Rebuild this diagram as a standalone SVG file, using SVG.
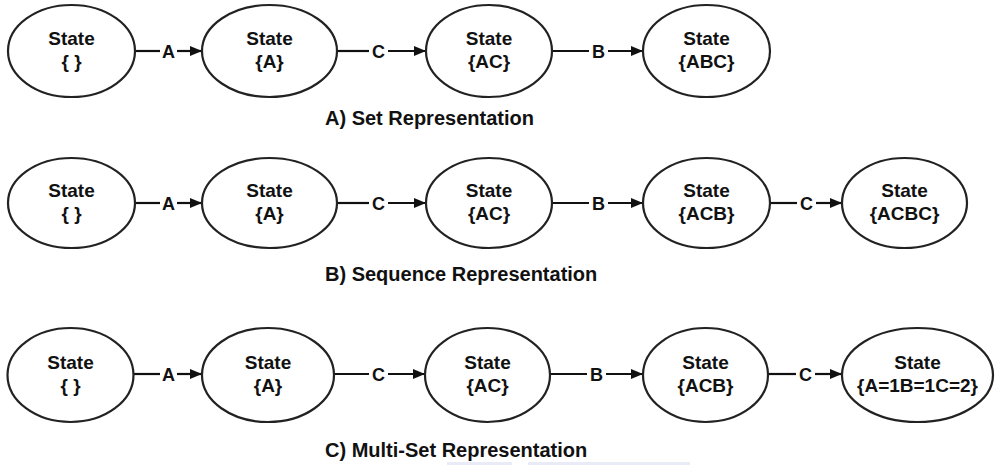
<svg xmlns="http://www.w3.org/2000/svg" width="997" height="465" viewBox="0 0 997 465">
<defs>
<style>
.n ellipse{fill:#fff;stroke:#222;stroke-width:2.2}
.n text{font-family:"Liberation Sans",Arial,sans-serif;font-weight:bold;font-size:19px;fill:#111;text-anchor:middle}
.edge{stroke:#111;stroke-width:2.2;fill:none}
.lbl{font-family:"Liberation Sans",Arial,sans-serif;font-weight:bold;font-size:18px;fill:#111;text-anchor:middle}
.t{font-family:"Liberation Sans",Arial,sans-serif;font-weight:bold;font-size:20px;fill:#111}
</style>
<marker id="ah" viewBox="0 0 12 10" refX="12" refY="5" markerWidth="12" markerHeight="10" markerUnits="userSpaceOnUse" orient="auto">
<path d="M0,0 L12,5 L0,10 Z" fill="#111"/>
</marker>
</defs>
<rect width="997" height="465" fill="#fff"/>
<rect x="447" y="462" width="65" height="3" fill="#e9ecf6"/>
<rect x="528" y="462" width="162" height="3" fill="#e9ecf6"/>

<g id="connectors">
<path class="edge" d="M135,51 H160"/><path class="edge" d="M177,51 H202" marker-end="url(#ah)"/><text class="lbl" x="168.5" y="57.5">A</text>
<path class="edge" d="M337,51 H369"/><path class="edge" d="M388,51 H426" marker-end="url(#ah)"/><text class="lbl" x="378.5" y="57.5">C</text>
<path class="edge" d="M552,51 H589"/><path class="edge" d="M608,51 H643" marker-end="url(#ah)"/><text class="lbl" x="598.5" y="57.5">B</text>

<path class="edge" d="M135,203 H160"/><path class="edge" d="M177,203 H202" marker-end="url(#ah)"/><text class="lbl" x="168.5" y="209.5">A</text>
<path class="edge" d="M337,203 H369"/><path class="edge" d="M388,203 H426" marker-end="url(#ah)"/><text class="lbl" x="378.5" y="209.5">C</text>
<path class="edge" d="M552,203 H589"/><path class="edge" d="M608,203 H643" marker-end="url(#ah)"/><text class="lbl" x="598.5" y="209.5">B</text>
<path class="edge" d="M770,203 H797"/><path class="edge" d="M816,203 H842" marker-end="url(#ah)"/><text class="lbl" x="806.5" y="209.5">C</text>

<path class="edge" d="M134,374 H160"/><path class="edge" d="M177,374 H202" marker-end="url(#ah)"/><text class="lbl" x="168.5" y="380.5">A</text>
<path class="edge" d="M334,374 H369"/><path class="edge" d="M388,374 H425" marker-end="url(#ah)"/><text class="lbl" x="378.5" y="380.5">C</text>
<path class="edge" d="M550,374 H587"/><path class="edge" d="M606,374 H643" marker-end="url(#ah)"/><text class="lbl" x="596.5" y="380.5">B</text>
<path class="edge" d="M768,374 H796"/><path class="edge" d="M815,374 H842" marker-end="url(#ah)"/><text class="lbl" x="805.5" y="380.5">C</text>
</g>

<g id="a1" class="n"><ellipse cx="71.5" cy="51" rx="63.5" ry="46"/><text x="71.5" y="45">State</text><text x="71.5" y="68">{ }</text></g>
<g id="a2" class="n"><ellipse cx="269.5" cy="51" rx="67.5" ry="46"/><text x="269.5" y="45">State</text><text x="269.5" y="68">{A}</text></g>
<g id="a3" class="n"><ellipse cx="489" cy="51" rx="63" ry="46"/><text x="489" y="45">State</text><text x="489" y="68">{AC}</text></g>
<g id="a4" class="n"><ellipse cx="706.5" cy="51" rx="63.5" ry="46"/><text x="706.5" y="45">State</text><text x="706.5" y="68">{ABC}</text></g>

<g id="b1" class="n"><ellipse cx="71.5" cy="203" rx="63.5" ry="45"/><text x="71.5" y="197">State</text><text x="71.5" y="220">{ }</text></g>
<g id="b2" class="n"><ellipse cx="269.5" cy="203" rx="67.5" ry="45"/><text x="269.5" y="197">State</text><text x="269.5" y="220">{A}</text></g>
<g id="b3" class="n"><ellipse cx="489" cy="203" rx="63" ry="45"/><text x="489" y="197">State</text><text x="489" y="220">{AC}</text></g>
<g id="b4" class="n"><ellipse cx="706.5" cy="203" rx="63.5" ry="45"/><text x="706.5" y="197">State</text><text x="706.5" y="220">{ACB}</text></g>
<g id="b5" class="n"><ellipse cx="904.5" cy="203" rx="62.5" ry="45"/><text x="904.5" y="197">State</text><text x="904.5" y="220">{ACBC}</text></g>

<g id="c1" class="n"><ellipse cx="70.5" cy="375" rx="63" ry="47"/><text x="70.5" y="369">State</text><text x="70.5" y="392">{ }</text></g>
<g id="c2" class="n"><ellipse cx="268" cy="375" rx="66" ry="47"/><text x="268" y="369">State</text><text x="268" y="392">{A}</text></g>
<g id="c3" class="n"><ellipse cx="487.5" cy="375" rx="62.5" ry="47"/><text x="487.5" y="369">State</text><text x="487.5" y="392">{AC}</text></g>
<g id="c4" class="n"><ellipse cx="705.5" cy="375" rx="62.5" ry="47"/><text x="705.5" y="369">State</text><text x="705.5" y="392">{ACB}</text></g>
<g id="c5" class="n"><ellipse cx="917.5" cy="375" rx="75.5" ry="47"/><text x="917.5" y="369">State</text><text x="917.5" y="392">{A=1B=1C=2}</text></g>

<text class="t" x="325" y="125">A) Set Representation</text>
<text class="t" x="325" y="281">B) Sequence Representation</text>
<text class="t" x="325" y="457">C) Multi-Set Representation</text>
</svg>
